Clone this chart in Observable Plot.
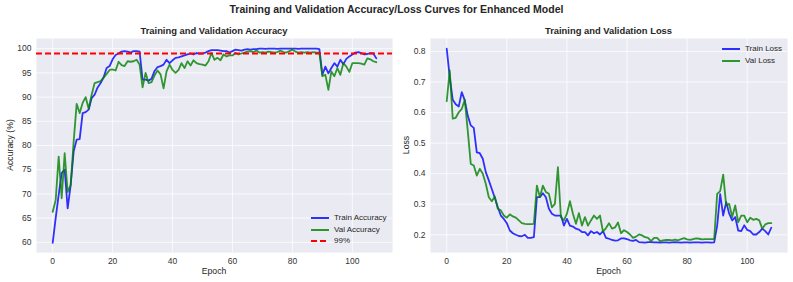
<!DOCTYPE html>
<html>
<head>
<meta charset="utf-8">
<script src="https://cdn.jsdelivr.net/npm/d3@7"></script>
<script src="https://cdn.jsdelivr.net/npm/@observablehq/plot@0.6"></script>
<style>
  html, body { margin: 0; padding: 0; background: #fff; }
  #wrap { position: relative; width: 793px; height: 282px; font-family: "Liberation Sans", Arial, sans-serif; color: #262626; overflow: hidden; }
  .abs { position: absolute; white-space: nowrap; }
  .title { font-weight: bold; font-size: 10.5px; }
  .sub { font-weight: bold; font-size: 9.4px; }
  .lab { font-size: 8.7px; }
  .leg { font-size: 8px; display: flex; align-items: center; height: 11px; }
  .leg svg { margin-right: 5px; }
</style>
</head>
<body>
<div id="wrap"></div>
<script>
// ---- data ----
const epochs = d3.range(0, 109);
const trainAcc = [59.9,65,69.8,74.3,75,67,71.8,78.8,81.2,81.3,
  86.7,86.9,87.4,89.8,90.5,92,92.9,94.1,96,96.4,
  97.8,98.7,99,99.4,99.5,99.4,99.2,99.5,99.5,99.4,
  93.6,93.6,93.4,93.8,95.4,96.2,96.4,96.7,97.7,97,
  97.6,98.1,98.2,98.4,98.6,98.8,99,98.8,99.1,99,
  99,99.2,99.5,99.7,99.7,99.7,99.6,99.5,99.5,99.2,
  99.5,99.8,99.7,99.6,99.8,99.9,99.8,99.9,99.9,100,
  100,99.95,100,100,100,99.95,100,100,100,100,
  100,100,99.95,100,100,100,100,100,100,99.9,
  94.6,96.3,94.9,96,97,96.3,97.7,96.8,97.9,98.4,
  98.8,99.2,99.3,99.1,98.8,98.9,99.1,99,98];
const valAcc = [66.3,68.7,77.7,69.1,78.4,70.4,71.8,80.8,88.6,86.7,
  88.8,90,87.6,90.5,92.9,93.1,93.3,94,94.8,95.6,
  95.7,95.5,97.3,96.6,96.4,97.4,97.3,97.4,97.7,96.7,
  92,95,92.9,93.1,94.5,95.5,94.7,91.8,95.3,96.7,
  95.6,95,95.6,97,96,97.4,96.5,97.6,97,96.8,
  96.7,96.5,97.4,99.1,97.7,98.1,97.6,98.8,98.4,98.6,
  98.6,99.1,98.8,99,99.2,99.4,99.5,99.3,99.6,99.2,
  99.3,99.2,99.4,99.3,99.2,99.3,99.6,99.3,99.2,99.5,
  99.8,99.4,99.2,99.3,99.2,99.3,99.2,99.3,99.2,99.2,
  94.3,94.6,91.5,95.3,94.3,96,94.6,97,96.3,95.2,
  97,97,97,96.9,96.7,98,97.8,97.4,97.2];
const trainLoss = [0.809,0.716,0.642,0.627,0.62,0.667,0.64,0.59,0.558,0.55,
  0.47,0.467,0.449,0.405,0.378,0.35,0.321,0.29,0.263,0.252,
  0.238,0.214,0.205,0.2,0.196,0.195,0.2,0.19,0.19,0.192,
  0.323,0.323,0.336,0.323,0.285,0.269,0.263,0.263,0.263,0.23,
  0.252,0.23,0.227,0.22,0.217,0.209,0.209,0.198,0.212,0.205,
  0.209,0.201,0.212,0.19,0.187,0.183,0.181,0.182,0.188,0.188,
  0.186,0.182,0.18,0.183,0.176,0.175,0.174,0.176,0.176,0.175,
  0.175,0.174,0.175,0.175,0.174,0.175,0.176,0.175,0.174,0.175,
  0.175,0.174,0.175,0.175,0.175,0.174,0.175,0.175,0.174,0.175,
  0.23,0.333,0.263,0.307,0.269,0.247,0.258,0.214,0.212,0.231,
  0.216,0.212,0.201,0.201,0.209,0.22,0.212,0.201,0.223];
const valLoss = [0.637,0.738,0.58,0.583,0.601,0.612,0.642,0.54,0.432,0.427,
  0.394,0.416,0.4,0.367,0.323,0.31,0.325,0.285,0.28,0.263,
  0.256,0.267,0.26,0.256,0.247,0.238,0.236,0.235,0.235,0.236,
  0.361,0.323,0.361,0.34,0.334,0.29,0.301,0.421,0.258,0.247,
  0.269,0.31,0.269,0.236,0.271,0.23,0.258,0.23,0.247,0.263,
  0.252,0.263,0.21,0.222,0.238,0.22,0.224,0.24,0.205,0.215,
  0.209,0.201,0.19,0.194,0.201,0.198,0.192,0.19,0.179,0.19,
  0.19,0.179,0.182,0.183,0.183,0.182,0.184,0.182,0.186,0.189,
  0.185,0.183,0.186,0.188,0.187,0.185,0.186,0.186,0.186,0.186,
  0.334,0.343,0.397,0.296,0.301,0.258,0.296,0.241,0.263,0.263,
  0.241,0.256,0.249,0.252,0.247,0.22,0.234,0.238,0.238];
const threshold = [99];
const xTicks = [0, 20, 40, 60, 80, 100];
const accTicks = [60, 65, 70, 75, 80, 85, 90, 95, 100];
const lossTicks = [0.2, 0.3, 0.4, 0.5, 0.6, 0.7, 0.8];
const titleText = "Training and Validation Accuracy/Loss Curves for Enhanced Model";
const accTitle = "Training and Validation Accuracy";
const lossTitle = "Training and Validation Loss";
const accLegend = ["Train Accuracy", "Val Accuracy", "99%"];
const lossLegend = ["Train Loss", "Val Loss"];

const BLUE = "#0000ff", GREEN = "#008000", RED = "#ff0000", BG = "#EAEAF2";
const rows = (arr) => arr.map((v, i) => ({epoch: epochs[i], value: v}));

function panel({width, marginLeft, marginRight, domainY, ticksY, fmtY, series, rule}) {
  const marks = [
    Plot.frame({fill: BG}),
    Plot.gridX(xTicks, {stroke: "white", strokeOpacity: 0.75, strokeWidth: 1}),
    Plot.gridY(ticksY, {stroke: "white", strokeOpacity: 0.75, strokeWidth: 1}),
    ...series.map(s => Plot.lineY(rows(s.data), {x: "epoch", y: "value", stroke: s.color, strokeOpacity: 0.8, strokeWidth: 1.8})),
  ];
  if (rule) marks.push(Plot.ruleY(rule, {stroke: RED, strokeWidth: 2, strokeDasharray: "6,3"}));
  marks.push(
    Plot.axisX(xTicks, {tickSize: 0, tickPadding: 5, label: null, fontSize: 8.5}),
    Plot.axisY(ticksY, {tickSize: 0, tickPadding: 5, label: null, tickFormat: fmtY, fontSize: 8.5})
  );
  return Plot.plot({
    width, height: 262, marginLeft, marginRight, marginTop: 18, marginBottom: 30,
    x: {domain: [-5.4, 113.4]},
    y: {domain: domainY},
    style: {fontFamily: "Liberation Sans, Arial, sans-serif", fontSize: "8.5px", color: "#333", background: "transparent", overflow: "visible"},
    marks
  });
}

const wrap = document.getElementById("wrap");
function add(el, css) { Object.assign(el.style, css); el.classList.add("abs"); wrap.appendChild(el); return el; }
function txt(cls, text, css) { const d = document.createElement("div"); d.className = cls; d.textContent = text; return add(d, css); }

const left = panel({width: 396, marginLeft: 36, marginRight: 4, domainY: [57.9, 102.1], ticksY: accTicks, fmtY: d => String(d),
  series: [{data: trainAcc, color: BLUE}, {data: valAcc, color: GREEN}], rule: threshold});
add(left, {left: "0px", top: "20px"});
const right = panel({width: 393, marginLeft: 30, marginRight: 6, domainY: [0.142, 0.8425], ticksY: lossTicks, fmtY: d3.format(".1f"),
  series: [{data: trainLoss, color: BLUE}, {data: valLoss, color: GREEN}]});
add(right, {left: "400px", top: "20px"});

// titles & labels
txt("title", titleText, {left: "0px", width: "793px", textAlign: "center", top: "3px"});
txt("sub", accTitle, {left: "36px", width: "356px", textAlign: "center", top: "25px"});
txt("sub", lossTitle, {left: "430px", width: "357px", textAlign: "center", top: "25px"});
txt("lab", "Epoch", {left: "36px", width: "356px", textAlign: "center", top: "266px"});
txt("lab", "Epoch", {left: "430px", width: "357px", textAlign: "center", top: "266px"});
txt("lab", "Accuracy (%)", {left: "10px", top: "145px", transform: "translate(-50%,-50%) rotate(-90deg)"});
txt("lab", "Loss", {left: "406px", top: "145px", transform: "translate(-50%,-50%) rotate(-90deg)"});

// legends
function legendItem(label, color, dashed, x, y) {
  const d = document.createElement("div"); d.className = "leg";
  const ns = "http://www.w3.org/2000/svg";
  const s = document.createElementNS(ns, "svg"); s.setAttribute("width", "18"); s.setAttribute("height", "4");
  const l = document.createElementNS(ns, "line");
  l.setAttribute("x1", "0"); l.setAttribute("x2", "18"); l.setAttribute("y1", "2"); l.setAttribute("y2", "2");
  l.setAttribute("stroke", color); l.setAttribute("stroke-width", "2");
  l.setAttribute("stroke-opacity", dashed ? "1" : "0.8");
  if (dashed) l.setAttribute("stroke-dasharray", "6,3");
  s.appendChild(l); d.appendChild(s);
  d.appendChild(document.createTextNode(label));
  add(d, {left: x + "px", top: y + "px"});
}
legendItem(accLegend[0], BLUE, false, 311, 212);
legendItem(accLegend[1], GREEN, false, 311, 224);
legendItem(accLegend[2], RED, true, 311, 235);
legendItem(lossLegend[0], BLUE, false, 722, 43);
legendItem(lossLegend[1], GREEN, false, 722, 55);
</script>
</body>
</html>
